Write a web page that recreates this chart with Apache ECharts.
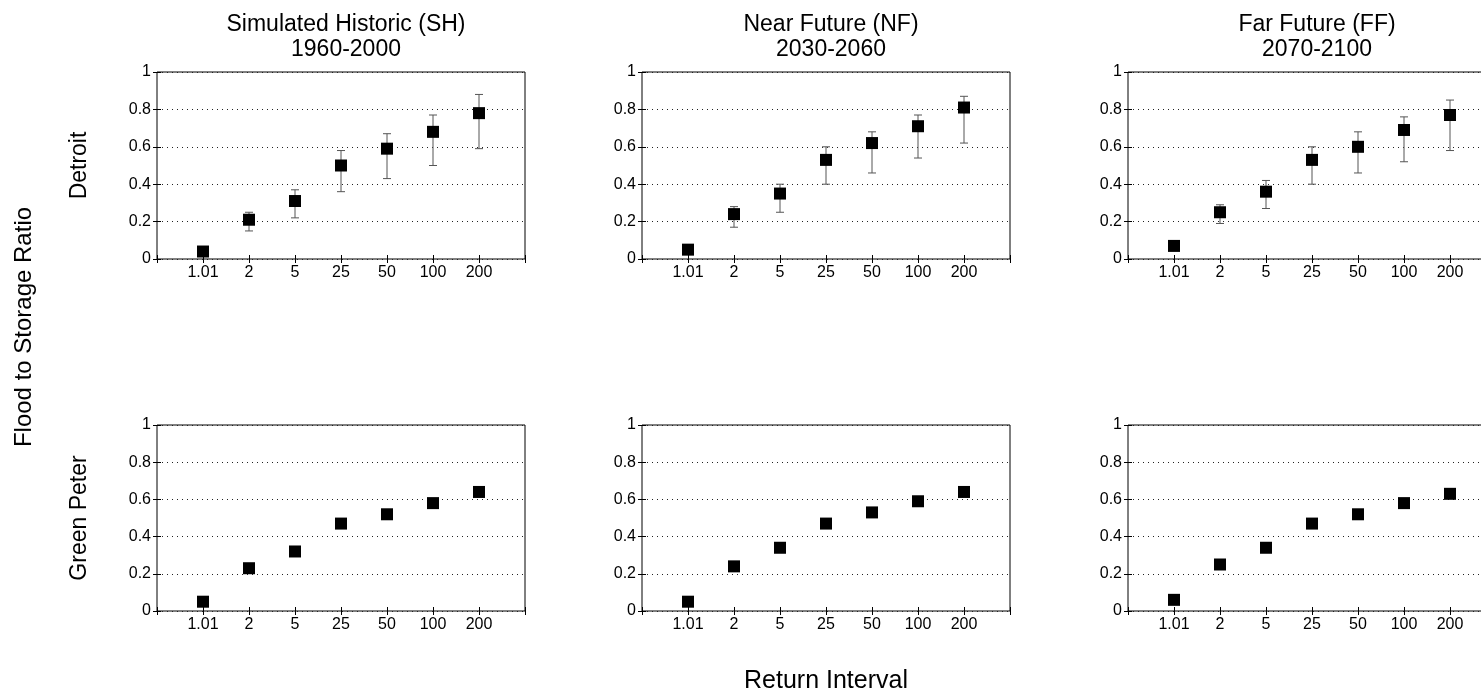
<!DOCTYPE html>
<html>
<head>
<meta charset="utf-8">
<title>Flood to Storage Ratio by Return Interval</title>
<script src="https://cdn.jsdelivr.net/npm/echarts@6/dist/echarts.min.js"></script>
<style>
  html, body { margin: 0; padding: 0; background: #fff; overflow: hidden; width: 1481px; height: 698px; }
  /* the canvas runs a little past the right edge so the last panel is cut off there */
  #chart { width: 1500px; height: 698px; }
</style>
</head>
<body>
<div id="chart"></div>
<script>
// Return intervals shown on every x axis
const categories = ['1.01', '2', '5', '25', '50', '100', '200'];
const yTicks = [0, 0.2, 0.4, 0.6, 0.8, 1];

const periodTitles = ['Simulated Historic (SH)\n1960-2000', 'Near Future (NF)\n2030-2060', 'Far Future (FF)\n2070-2100'];
const reservoirs = ['Detroit', 'Green Peter'];

// Detroit: median ratio with lower / upper range
const detroitSH = [0.04, 0.21, 0.31, 0.50, 0.59, 0.68, 0.78];
const detroitSHLow = [0.03, 0.15, 0.22, 0.36, 0.43, 0.50, 0.59];
const detroitSHHigh = [0.05, 0.25, 0.37, 0.58, 0.67, 0.77, 0.88];

const detroitNF = [0.05, 0.24, 0.35, 0.53, 0.62, 0.71, 0.81];
const detroitNFLow = [0.04, 0.17, 0.25, 0.40, 0.46, 0.54, 0.62];
const detroitNFHigh = [0.06, 0.28, 0.40, 0.60, 0.68, 0.77, 0.87];

const detroitFF = [0.07, 0.25, 0.36, 0.53, 0.60, 0.69, 0.77];
const detroitFFLow = [0.06, 0.19, 0.27, 0.40, 0.46, 0.52, 0.58];
const detroitFFHigh = [0.08, 0.29, 0.42, 0.60, 0.68, 0.76, 0.85];

// Green Peter: single estimate per return interval
const greenPeterSH = [0.05, 0.23, 0.32, 0.47, 0.52, 0.58, 0.64];
const greenPeterNF = [0.05, 0.24, 0.34, 0.47, 0.53, 0.59, 0.64];
const greenPeterFF = [0.06, 0.25, 0.34, 0.47, 0.52, 0.58, 0.63];

const FONT = 'Liberation Sans, Arial, Helvetica, sans-serif';

const panels = [
  { row: 0, col: 0, mid: detroitSH, low: detroitSHLow, high: detroitSHHigh },
  { row: 0, col: 1, mid: detroitNF, low: detroitNFLow, high: detroitNFHigh },
  { row: 0, col: 2, mid: detroitFF, low: detroitFFLow, high: detroitFFHigh },
  { row: 1, col: 0, mid: greenPeterSH },
  { row: 1, col: 1, mid: greenPeterNF },
  { row: 1, col: 2, mid: greenPeterFF }
];

const colLeft = [157, 642, 1128];
const panelWidth = 368;
const rowTop = [72, 425];
const rowHeight = [187, 186];

const grids = [], xAxes = [], yAxes = [], series = [];

function catLabel(v) {
  const i = Math.round(v) - 1;
  return (i >= 0 && i < categories.length) ? categories[i] : '';
}

panels.forEach((p, k) => {
  grids.push({
    left: colLeft[p.col], top: rowTop[p.row],
    width: panelWidth, height: rowHeight[p.row],
    show: true, borderColor: '#000', borderWidth: 1, backgroundColor: '#fff'
  });
  const xBase = {
    type: 'value', gridIndex: k, min: 0, max: categories.length + 1, interval: 1,
    axisLine: { show: false },
    axisTick: { show: true, inside: true, length: 4, lineStyle: { color: '#000' } },
    splitLine: { show: false }
  };
  xAxes.push(Object.assign({}, xBase, {
    position: 'bottom',
    axisLabel: { show: true, formatter: catLabel, color: '#000', fontSize: 16, fontFamily: FONT, margin: 6 }
  }));
  xAxes.push(Object.assign({}, xBase, { position: 'top', axisLabel: { show: false } }));

  const yBase = {
    type: 'value', gridIndex: k, min: yTicks[0], max: yTicks[yTicks.length - 1], interval: 0.2,
    axisLine: { show: false },
    axisTick: { show: true, inside: true, length: 4, lineStyle: { color: '#000' } }
  };
  yAxes.push(Object.assign({}, yBase, {
    position: 'left',
    axisLabel: { show: true, color: '#000', fontSize: 16, fontFamily: FONT, margin: 6 },
    splitLine: { show: true, lineStyle: { color: '#222', width: 1, type: [1, 4] } }
  }));
  yAxes.push(Object.assign({}, yBase, {
    position: 'right', axisLabel: { show: false }, splitLine: { show: false }
  }));

  const xi = 2 * k, yi = 2 * k;

  if (p.low) {
    series.push({
      type: 'custom', xAxisIndex: xi, yAxisIndex: yi, silent: true, z: 2,
      data: p.mid.map((_, i) => [i + 1, p.low[i], p.high[i]]),
      renderItem: function (params, api) {
        const lo = api.coord([api.value(0), api.value(1)]);
        const hi = api.coord([api.value(0), api.value(2)]);
        const cap = 4;
        const style = { stroke: '#555', lineWidth: 1 };
        return {
          type: 'group',
          children: [
            { type: 'line', shape: { x1: lo[0], y1: lo[1], x2: hi[0], y2: hi[1] }, style: style },
            { type: 'line', shape: { x1: hi[0] - cap, y1: hi[1], x2: hi[0] + cap, y2: hi[1] }, style: style },
            { type: 'line', shape: { x1: lo[0] - cap, y1: lo[1], x2: lo[0] + cap, y2: lo[1] }, style: style }
          ]
        };
      }
    });
  }

  series.push({
    type: 'scatter', xAxisIndex: xi, yAxisIndex: yi, z: 3, silent: true,
    symbol: 'rect', symbolSize: 12,
    itemStyle: { color: '#000', opacity: 1 },
    data: p.mid.map((v, i) => [i + 1, v])
  });
});

const titles = periodTitles.map((t, c) => ({
  text: t,
  left: colLeft[c] + panelWidth / 2,
  top: 7,
  textAlign: 'center',
  textStyle: { color: '#000', fontSize: 23, fontWeight: 'normal', fontFamily: FONT, lineHeight: 25 }
}));

const textStyle = { fill: '#000', fontSize: 23, fontFamily: FONT, align: 'center', verticalAlign: 'middle' };
const graphics = [
  { type: 'text', x: 80, y: rowTop[0] + rowHeight[0] / 2, rotation: Math.PI / 2, style: Object.assign({ text: reservoirs[0] }, textStyle) },
  { type: 'text', x: 80, y: rowTop[1] + rowHeight[1] / 2, rotation: Math.PI / 2, style: Object.assign({ text: reservoirs[1] }, textStyle) },
  { type: 'text', x: 24, y: 327, rotation: Math.PI / 2, style: Object.assign({ text: 'Flood to Storage Ratio', fontSize: 24 }, textStyle, { fontSize: 24 }) },
  { type: 'text', x: colLeft[1] + panelWidth / 2, y: 681, style: Object.assign({}, textStyle, { text: 'Return Interval', fontSize: 25 }) }
];

const chart = echarts.init(document.getElementById('chart'), null, { renderer: 'canvas' });
chart.setOption({
  backgroundColor: '#fff',
  animation: false,
  title: titles,
  grid: grids,
  xAxis: xAxes,
  yAxis: yAxes,
  series: series,
  graphic: graphics
});
</script>
</body>
</html>
